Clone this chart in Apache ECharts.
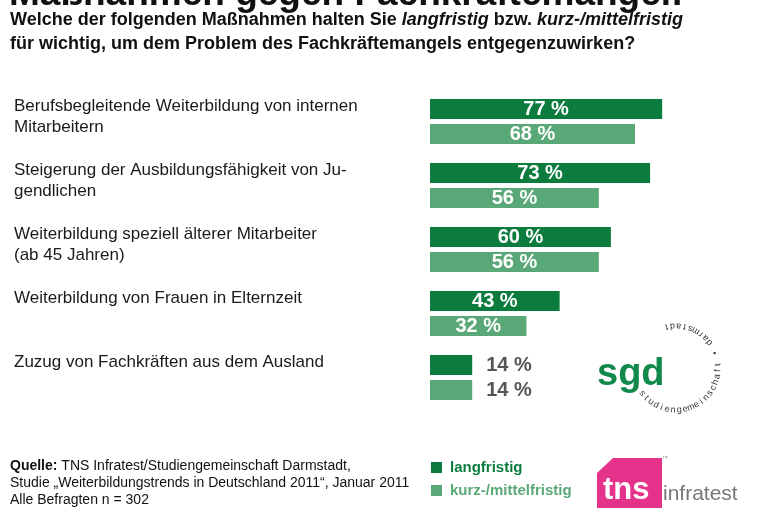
<!DOCTYPE html>
<html>
<head>
<meta charset="utf-8">
<script src="https://cdn.jsdelivr.net/npm/echarts@6/dist/echarts.min.js"></script>
<style>html,body{margin:0;padding:0;background:#fff}#c{width:762px;height:508px}</style>
</head>
<body>
<div id="c"></div>
<script>
var categories = [
  'Berufsbegleitende Weiterbildung von internen\nMitarbeitern',
  'Steigerung der Ausbildungsfähigkeit von Ju-\ngendlichen',
  'Weiterbildung speziell älterer Mitarbeiter\n(ab 45 Jahren)',
  'Weiterbildung von Frauen in Elternzeit',
  'Zuzug von Fachkräften aus dem Ausland'
];
var seriesNames = ['langfristig', 'kurz-/mittelfristig'];
var langfristig = [77, 73, 60, 43, 14];
var kurzMittelfristig = [68, 56, 56, 32, 14];

var DARK = '#0b7c3e', LIGHT = '#5aa877';
var FONT = '"Liberation Sans", Arial, Helvetica, sans-serif';

function mkData(vals) {
  return vals.map(function (v) {
    var small = v < 20;
    return {
      value: v,
      label: small ? { position: 'right', distance: 14, color: '#555555' } : { position: 'inside', color: '#ffffff' }
    };
  });
}

// circular logo text
var ringText = 'studiengemeinschaft • darmstadt';
var ringEls = [];
var cx = 676, cy = 368, r = 42;
var startDeg = 143, stepDeg = 8.2;
for (var i = 0; i < ringText.length; i++) {
  var deg = startDeg - i * stepDeg;
  var th = deg * Math.PI / 180;
  ringEls.push({
    type: 'text',
    x: cx + r * Math.cos(th), y: cy + r * Math.sin(th),
    rotation: (90 - deg) * Math.PI / 180,
    style: { text: ringText[i], fill: '#333', font: '9px ' + FONT, textAlign: 'center', textVerticalAlign: 'middle' }
  });
}

var chart = echarts.init(document.getElementById('c'), null, { renderer: 'canvas' });
chart.setOption({
  backgroundColor: '#ffffff',
  animation: false,
  textStyle: { fontFamily: FONT },
  grid: { left: 430, right: 30.5, top: 89.5, bottom: 98.5, containLabel: false },
  xAxis: { type: 'value', min: 0, max: 100, show: false },
  yAxis: {
    type: 'category', data: categories, inverse: true,
    axisLine: { show: false }, axisTick: { show: false }, splitLine: { show: false },
    axisLabel: {
      interval: 0, align: 'left', margin: 416, verticalAlign: 'middle',
      formatter: function (v) {
        var lines = v.split('\n');
        while (lines.length < 2) lines.push(' ');
        return lines.map(function (l) { return '{a|' + l + '}'; }).join('\n') + '\n{s| }';
      },
      rich: {
        a: { fontSize: 17, lineHeight: 21, color: '#1a1a1a', fontFamily: FONT },
        s: { fontSize: 1, lineHeight: 9 }
      }
    }
  },
  legend: {
    orient: 'vertical', left: 426, top: 455, itemWidth: 11, itemHeight: 11, itemGap: 8,
    icon: 'rect', selectedMode: false,
    data: [
      { name: seriesNames[0], textStyle: { color: DARK } },
      { name: seriesNames[1], textStyle: { color: LIGHT } }
    ],
    textStyle: { fontSize: 15, fontWeight: 'bold', fontFamily: FONT, padding: [0, 0, 0, 3] }
  },
  series: [
    {
      name: seriesNames[0], type: 'bar', data: mkData(langfristig), barWidth: 20, barGap: '25%',
      itemStyle: { color: DARK },
      label: { show: true, formatter: '{c} %', fontSize: 20, fontWeight: 'bold', fontFamily: FONT }
    },
    {
      name: seriesNames[1], type: 'bar', data: mkData(kurzMittelfristig), barWidth: 20, barGap: '25%',
      itemStyle: { color: LIGHT },
      label: { show: true, formatter: '{c} %', fontSize: 20, fontWeight: 'bold', fontFamily: FONT }
    }
  ],
  graphic: [
    { type: 'text', x: 9, y: -24, style: { text: 'Maßnahmen gegen Fachkräftemangel:', fill: '#111', font: 'bold 37px ' + FONT } },
    { type: 'text', x: 10, y: 8, style: {
      text: '{b|Welche der folgenden Maßnahmen halten Sie }{bi|langfristig}{b| bzw. }{bi|kurz-/mittelfristig}\n{b|für wichtig, um dem Problem des Fachkräftemangels entgegenzuwirken?}',
      rich: {
        b: { font: 'bold 18px ' + FONT, fill: '#111', lineHeight: 24 },
        bi: { font: 'italic bold 18px ' + FONT, fill: '#111', lineHeight: 24 }
      }
    } },
    { type: 'text', x: 10, y: 458, style: {
      text: '{q|Quelle:}{t| TNS Infratest/Studiengemeinschaft Darmstadt,}\n{t|Studie „Weiterbildungstrends in Deutschland 2011“, Januar 2011}\n{t|Alle Befragten n = 302}',
      rich: {
        q: { font: 'bold 14px ' + FONT, fill: '#111', lineHeight: 17 },
        t: { font: '14px ' + FONT, fill: '#111', lineHeight: 17 }
      }
    } },
    // sgd logo
    { type: 'text', x: 597, y: 375, style: { text: 'sgd', fill: '#10894a', font: 'bold 38px ' + FONT, textVerticalAlign: 'middle' } },
    { type: 'group', children: ringEls },
    // tns logo
    { type: 'polygon', shape: { points: [[613, 458], [662, 458], [662, 508], [597, 508], [597, 473]] }, style: { fill: '#e5338b' } },
    { type: 'text', x: 603, y: 506, style: { text: 'tns', fill: '#ffffff', font: 'bold 31px ' + FONT, textVerticalAlign: 'bottom' } },
    { type: 'text', x: 663, y: 505, style: { text: 'infratest', fill: '#777777', font: '21px "Liberation Sans Narrow", ' + FONT, textVerticalAlign: 'bottom' } },
    { type: 'text', x: 662, y: 455, style: { text: '™', fill: '#999', font: '6px ' + FONT } }
  ]
});
</script>
</body>
</html>
